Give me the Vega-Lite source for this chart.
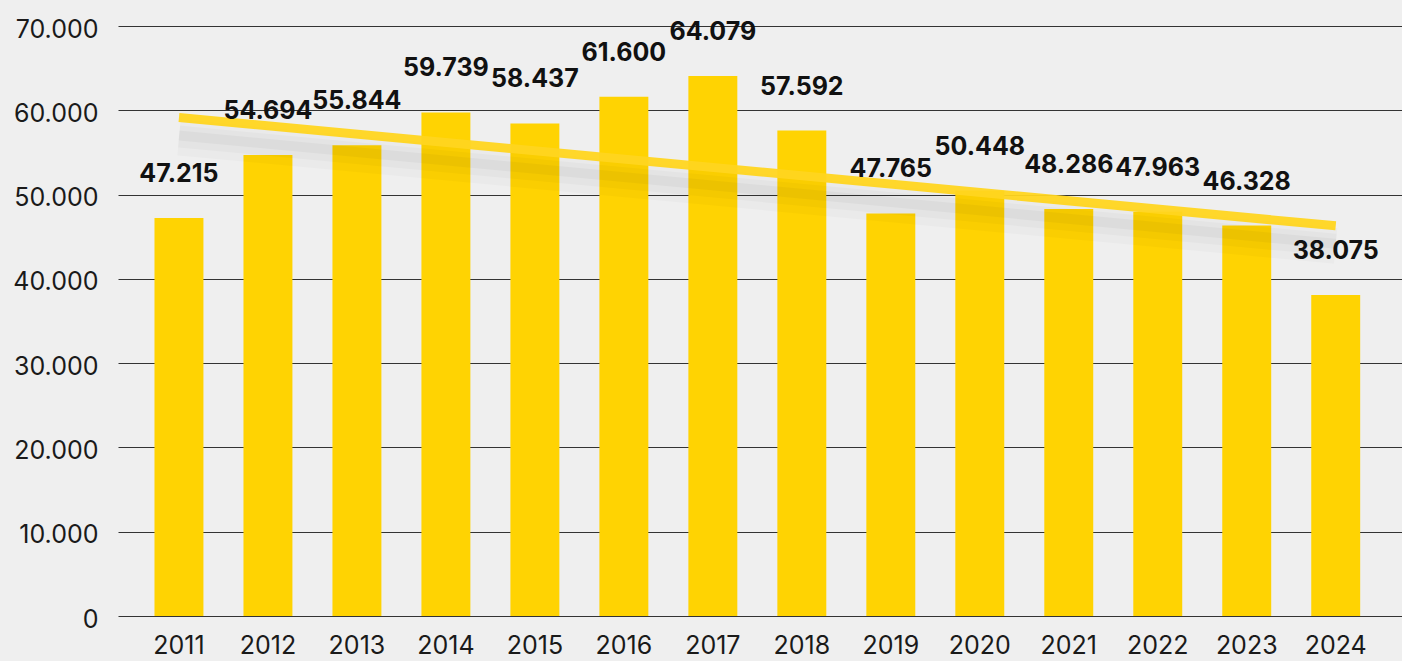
{
  "$schema": "https://vega.github.io/schema/vega-lite/v6.json",
  "autosize": "none",
  "width": 1284,
  "height": 590,
  "padding": {"left": 118, "top": 26, "right": 0, "bottom": 45},
  "background": "#efefef",
  "config": {
    "view": {"stroke": null},
    "font": "Inter",
    "locale": {"number": {"decimal": ",", "thousands": ".", "grouping": [3], "currency": ["", " €"]}}
  },
  "data": {
    "values": [
      {"year": 2011, "value": 47215},
      {"year": 2012, "value": 54694},
      {"year": 2013, "value": 55844},
      {"year": 2014, "value": 59739},
      {"year": 2015, "value": 58437},
      {"year": 2016, "value": 61600},
      {"year": 2017, "value": 64079},
      {"year": 2018, "value": 57592},
      {"year": 2019, "value": 47765},
      {"year": 2020, "value": 50448},
      {"year": 2021, "value": 48286},
      {"year": 2022, "value": 47963},
      {"year": 2023, "value": 46328},
      {"year": 2024, "value": 38075}
    ]
  },
  "encoding": {
    "x": {
      "field": "year", "type": "ordinal",
      "scale": {"paddingInner": 0.45, "paddingOuter": 0.44, "align": 0.466},
      "axis": {"title": null, "labelAngle": 0, "domain": false, "ticks": false, "labelFontSize": 25, "labelPadding": 17, "labelColor": "#1a1a1a", "labelFont": "Inter"}
    },
    "y": {
      "field": "value", "type": "quantitative",
      "scale": {"domain": [0, 70000], "nice": false},
      "axis": {"title": null, "values": [0, 10000, 20000, 30000, 40000, 50000, 60000, 70000], "format": ",d", "domain": false, "ticks": false, "gridColor": "#333333", "gridWidth": 1, "labelFontSize": 25, "labelPadding": 20, "labelOffset": 3, "labelColor": "#1a1a1a", "labelFont": "Inter"}
    }
  },
  "layer": [
    {"mark": {"type": "bar", "color": "#FFD302"}},
    {
      "transform": [{"regression": "value", "on": "year"}],
      "mark": {"type": "line", "color": "#000000", "opacity": 0.02, "strokeWidth": 36, "yOffset": 20}
    },
    {
      "transform": [{"regression": "value", "on": "year"}],
      "mark": {"type": "line", "color": "#000000", "opacity": 0.025, "strokeWidth": 22, "yOffset": 19}
    },
    {
      "transform": [{"regression": "value", "on": "year"}],
      "mark": {"type": "line", "color": "#000000", "opacity": 0.03, "strokeWidth": 10, "yOffset": 18}
    },
    {
      "transform": [{"regression": "value", "on": "year"}],
      "mark": {"type": "line", "color": "#FFD51F", "opacity": 0.95, "strokeWidth": 9}
    },
    {
      "mark": {"type": "text", "fontWeight": "bold", "fontSize": 25, "baseline": "middle", "dy": -44, "color": "#111111", "font": "Inter"},
      "encoding": {"text": {"field": "value", "type": "quantitative", "format": ",d"}}
    }
  ]
}
